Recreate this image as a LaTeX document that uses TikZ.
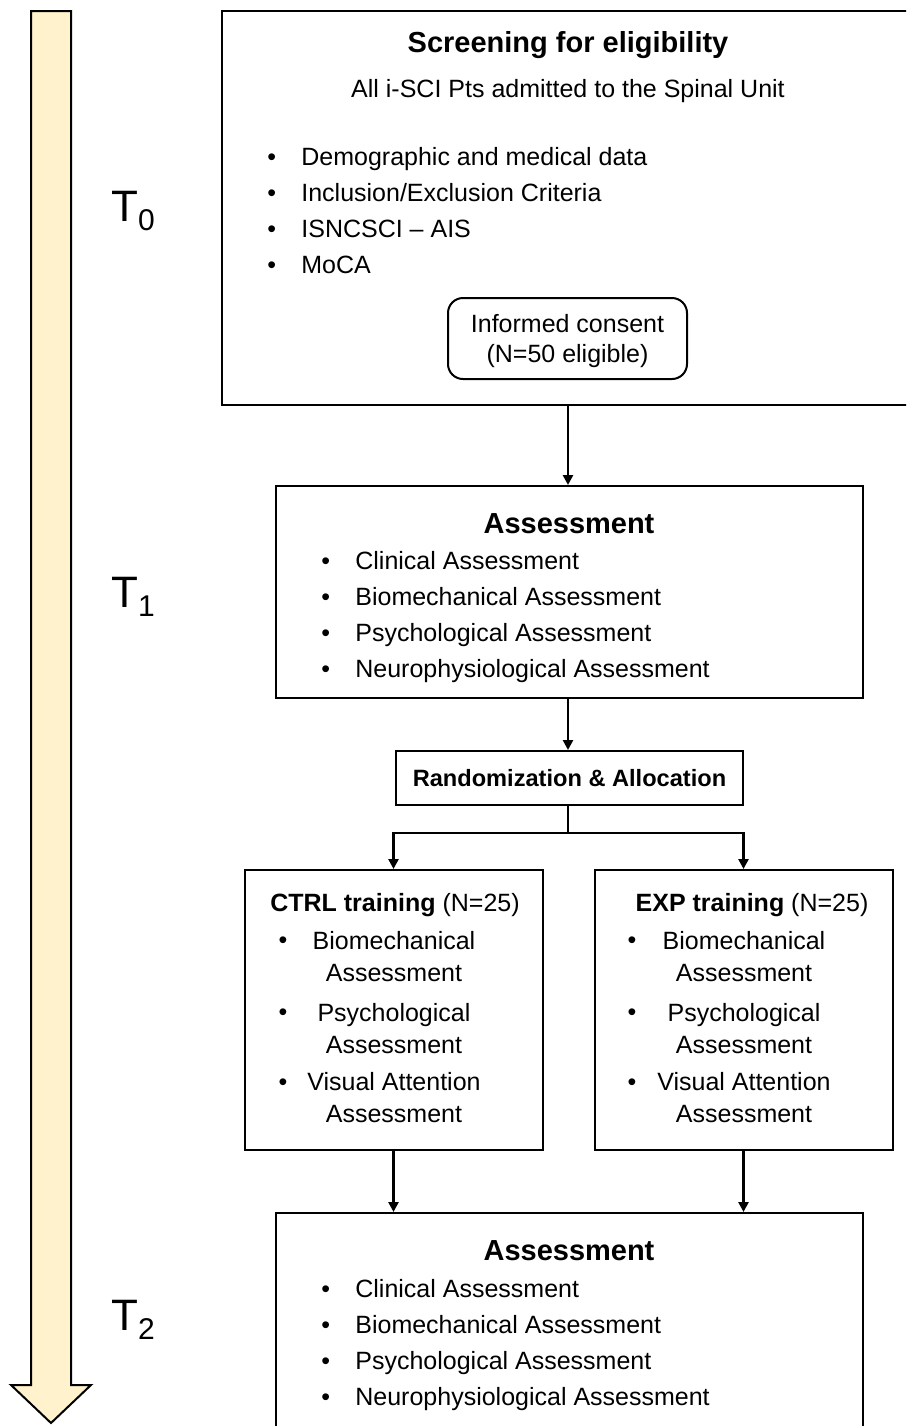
\documentclass[tikz,border=0pt]{standalone}
\usepackage{fontspec}
\setmainfont{Liberation Sans}
\usetikzlibrary{arrows.meta}

\definecolor{timefill}{HTML}{FFF2CC}

\tikzset{
    box/.style={draw, line width=1pt, inner sep=0pt},
    arr/.style={line width=1.3pt, -{Triangle[length=5pt,width=5pt]}},
    link/.style={line width=1.3pt},
    txt/.style={font=\fontsize{12.5pt}{18pt}\selectfont, inner sep=0pt},
    head/.style={font=\fontsize{14.5pt}{17pt}\selectfont\bfseries, inner sep=0pt},
    lst/.style={txt, align=left, anchor=west},
    dot/.style={txt, anchor=base},
    twoline/.style={font=\fontsize{12.5pt}{16pt}\selectfont, inner sep=0pt, align=center},
    tlabel/.style={font=\fontsize{22pt}{22pt}\selectfont, inner sep=0pt},
}

\newcommand{\bul}{\makebox[17pt][l]{\textbullet}}
\newcommand{\tsub}[1]{{\fontsize{15pt}{15pt}\selectfont\raisebox{-4.5pt}{#1}}}

\begin{document}
\begin{tikzpicture}[x=0.5pt, y=-0.5pt]
    \clip (0,0) rectangle (906,1426);

    % Time arrow
    \draw[line width=1pt, fill=timefill] (31,11) -- (71,11) -- (71,1385) -- (91,1385)
        -- (51,1423) -- (11,1385) -- (31,1385) -- cycle;

    % Time points
    \node[tlabel] (t0) at (133,211) {T\tsub{0}};
    \node[tlabel] (t1) at (133,597) {T\tsub{1}};
    \node[tlabel] (t2) at (133,1320) {T\tsub{2}};

    % Screening
    \node[box, minimum width=346pt, minimum height=197pt] (screen) at (568,208) {};
    \node[head] (screentitle) at (568,45) {Screening for eligibility};
    \node[txt] (screensub) at (568,91.5) {All i-SCI Pts admitted to the Spinal Unit};
    \node[lst] (screenlist) at (267,211) {\bul Demographic and medical data\\
        \bul Inclusion/Exclusion Criteria\\ \bul ISNCSCI -- AIS\\ \bul MoCA};
    \node[box, rounded corners=7.5pt, minimum width=119.5pt, minimum height=40.5pt] (consent) at (567.5,338.5) {};
    \node[align=center, inner sep=0pt, font=\fontsize{12.5pt}{15pt}\selectfont] (consenttext)
        at (567.5,341.5) {Informed consent\\(N=50 eligible)};

    % First assessment
    \node[box, minimum width=293.5pt, minimum height=106pt] (assessA) at (569.5,592) {};
    \node[head] (assessAtitle) at (569,523.5) {Assessment};
    \node[lst] (assessAlist) at (321,617) {\bul Clinical Assessment\\
        \bul Biomechanical Assessment\\ \bul Psychological Assessment\\
        \bul Neurophysiological Assessment};

    % Randomization
    \node[box, minimum width=173.5pt, minimum height=27pt,
        font=\fontsize{11.8pt}{14pt}\selectfont\bfseries] (rand) at (569.5,778) {Randomization \& Allocation};
    \coordinate (split) at (568,833);

    % Training groups
    \node[box, minimum width=149pt, minimum height=140pt] (ctrl) at (393.5,1010) {};
    \node[txt] (ctrltitle) at (395,905) {\textbf{CTRL training} (N=25)};
    \node[dot] (ctrlb1) at (283,948) {\textbullet};
    \node[twoline] (ctrli1) at (394,956.5) {Biomechanical\\Assessment};
    \node[dot] (ctrlb2) at (283,1020) {\textbullet};
    \node[twoline] (ctrli2) at (394,1028.5) {Psychological\\Assessment};
    \node[dot] (ctrlb3) at (283,1090) {\textbullet};
    \node[twoline] (ctrli3) at (394,1097.5) {Visual Attention\\Assessment};

    \node[box, minimum width=149pt, minimum height=140pt] (exp) at (743.5,1010) {};
    \node[txt] (exptitle) at (752,905) {\textbf{EXP training} (N=25)};
    \node[dot] (expb1) at (632,948) {\textbullet};
    \node[twoline] (expi1) at (744,956.5) {Biomechanical\\Assessment};
    \node[dot] (expb2) at (632,1020) {\textbullet};
    \node[twoline] (expi2) at (744,1028.5) {Psychological\\Assessment};
    \node[dot] (expb3) at (632,1090) {\textbullet};
    \node[twoline] (expi3) at (744,1097.5) {Visual Attention\\Assessment};

    % Final assessment
    \node[box, minimum width=293.5pt, minimum height=115pt] (assessB) at (569.5,1328) {};
    \node[head] (assessBtitle) at (569,1250.5) {Assessment};
    \node[lst] (assessBlist) at (321,1345) {\bul Clinical Assessment\\
        \bul Biomechanical Assessment\\ \bul Psychological Assessment\\
        \bul Neurophysiological Assessment};

    % Flow
    \draw[arr] (screen.south) -- (screen.south |- assessA.north);
    \draw[arr] (assessA.south -| split) -- (rand.north -| split);
    \draw[link] (rand.south -| split) -- (split);
    \draw[arr] (split) -| (ctrl.north);
    \draw[arr] (split) -| (exp.north);
    \draw[arr] (ctrl.south) -- (ctrl.south |- assessB.north);
    \draw[arr] (exp.south) -- (exp.south |- assessB.north);
\end{tikzpicture}
\end{document}
